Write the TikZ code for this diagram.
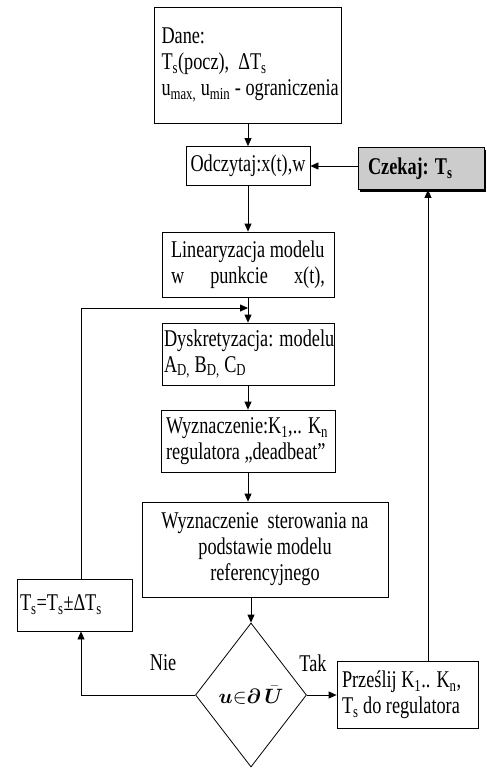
\documentclass[tikz,border=0pt]{standalone}
\usepackage{amsmath}
\usepackage{bm}
\usepackage{fontspec}
\setmainfont[FakeStretch=0.76]{Liberation Serif}
\usetikzlibrary{arrows.meta, shapes.geometric, shadows}
\newcommand{\sbs}[1]{\textsubscript{#1}}
\tikzset{
  box/.style={draw, line width=0.8pt, inner ysep=2pt, font=\fontsize{24}{26}\selectfont},
  arr/.style={-{Triangle[length=8pt,width=7pt]}, line width=0.8pt},
}

\begin{document}
\begin{tikzpicture}[x=1pt, y=-1pt]
\useasboundingbox (0,0) rectangle (487,769);

% main column
\node[box, minimum width=187pt, minimum height=116pt, inner xsep=7pt, text width=173pt, align=flush left] (dane) at (248,65)
  {Dane:\\ \mbox{T\sbs{s}(pocz),\ \ ΔT\sbs{s}}\\ \mbox{u\sbs{max,} u\sbs{min} - ograniczenia}};
\node[box, minimum width=124pt, minimum height=39pt] (odcz) at (248,166) {Odczytaj:x(t),w};
\node[box, minimum width=126pt, minimum height=42pt, inner xsep=10pt, text width=106pt, align=flush left,
  fill=black!20, drop shadow={shadow xshift=2pt, shadow yshift=-2pt, fill=black, opacity=1},
  font=\fontsize{24}{26}\selectfont\bfseries] (czekaj) at (421,168.5) {\mbox{Czekaj: T\sbs{s}}};
\node[box, minimum width=172pt, minimum height=65pt, inner xsep=9pt, text width=154pt, align=flush left] (lin) at (248,264.5)
  {\mbox{Linearyzacja modelu}\\ \hbox to 154pt{w\hfil punkcie\hfil x(t),}};
\node[box, minimum width=172pt, minimum height=62pt, inner xsep=2pt, text width=168pt, align=flush left] (dysk) at (248,354)
  {\mbox{Dyskretyzacja: modelu}\\ \mbox{A\sbs{D,} B\sbs{D,} C\sbs{D}}};
\node[box, minimum width=174pt, minimum height=62pt, inner xsep=5pt, text width=164pt, align=flush left] (wyzK) at (248,441)
  {\mbox{Wyznaczenie:K\sbs{1},.. K\sbs{n}}\\ \mbox{regulatora „deadbeat”}};
\node[box, minimum width=246pt, minimum height=95pt, align=center] (ster) at (265,549.5)
  {Wyznaczenie\ \ sterowania na\\ podstawie modelu\\ referencyjnego};
\node[draw, line width=0.8pt, diamond, aspect=0.77, inner sep=0pt, minimum width=111pt, minimum height=144pt] (diam) at (251,695)
  {\fontsize{20}{20}\selectfont$\bm{u}{\in}\bm{\partial}\,\bar{\bm{U}}$};

% side boxes
\node[box, minimum width=115pt, minimum height=52pt, inner xsep=3pt, text width=109pt, align=flush left] (ts) at (74.5,605)
  {\mbox{T\sbs{s}=T\sbs{s}±ΔT\sbs{s}}};
\node[box, minimum width=141pt, minimum height=67pt, inner xsep=5pt, text width=131pt, align=flush left] (prz) at (407.5,695)
  {\mbox{Prześlij K\sbs{1}.. K\sbs{n},}\\ \mbox{T\sbs{s} do regulatora}};
\node[font=\fontsize{24}{26}\selectfont] (nie) at (163,663) {Nie};
\node[font=\fontsize{24}{26}\selectfont] (tak) at (313,663) {Tak};

\coordinate (lx) at (81,0);
\coordinate (rx) at (428,0);
\coordinate (jn) at (248,308);

% connectors
\draw[arr] (dane) -- (odcz);
\draw[arr] (czekaj.west |- odcz.east) -- (odcz.east);
\draw[arr] (odcz) -- (lin);
\draw[arr] (lin) -- (dysk);
\draw[arr] (dysk) -- (wyzK);
\draw[arr] (wyzK.south) -- (wyzK.south |- ster.north);
\draw[arr] (diam.north |- ster.south) -- (diam.north);
\draw[arr] (diam.west) -| (lx |- ts.south);
\draw[arr] (lx |- ts.north) |- (jn);
\draw[arr] (diam.east) -- (prz.west);
\draw[arr] (rx |- prz.north) -- (rx |- czekaj.south);

\end{tikzpicture}
\end{document}
